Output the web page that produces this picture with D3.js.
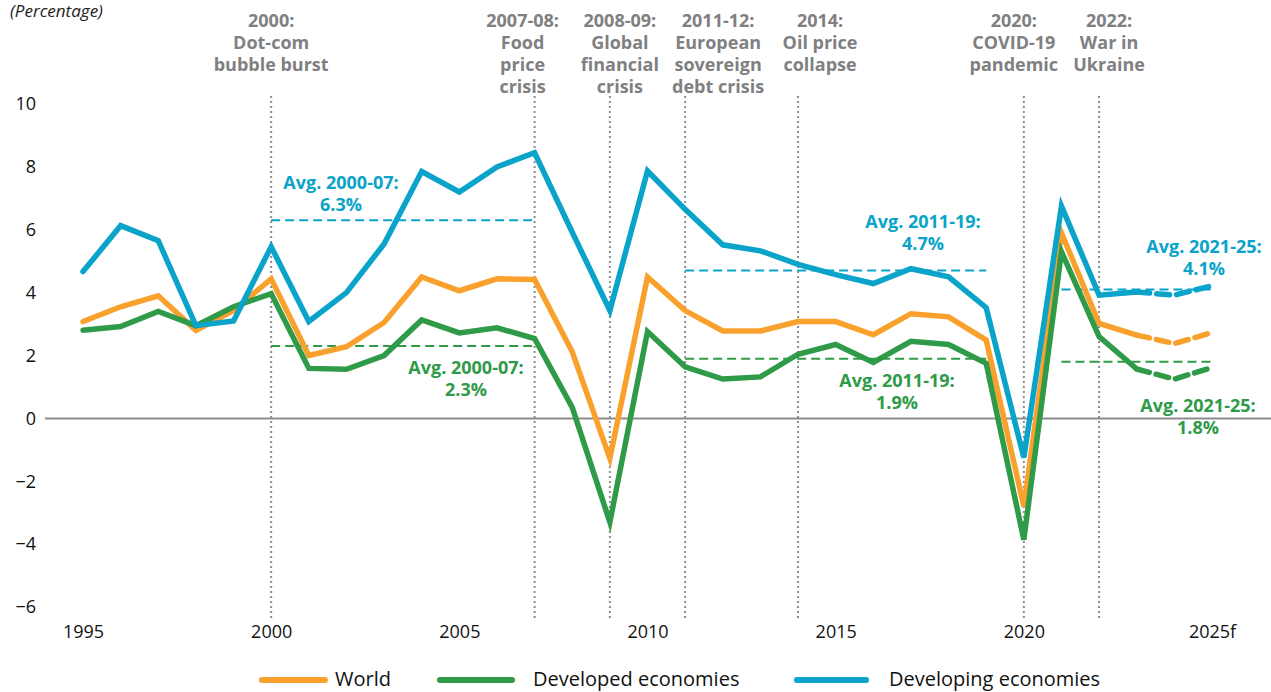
<!DOCTYPE html>
<html>
<head>
<meta charset="utf-8">
<script src="https://cdn.jsdelivr.net/npm/d3@7"></script>
<style>
  body { margin: 0; background: #fff; }
  svg { display: block; font-family: "Open Sans", sans-serif; }
</style>
</head>
<body>
<svg id="chart" width="1271" height="692"></svg>
<script>
// data
var years = d3.range(1995, 2026);
var world = [3.08, 3.55, 3.9, 2.8, 3.43, 4.44, 2.0, 2.28, 3.05, 4.5, 4.06, 4.44, 4.42, 2.12, -1.27,
             4.5, 3.43, 2.78, 2.78, 3.08, 3.08, 2.66, 3.33, 3.23, 2.49, -2.8, 5.9, 3.02, 2.65, 2.38, 2.73];
var developed = [2.8, 2.92, 3.4, 2.95, 3.55, 3.97, 1.59, 1.56, 2.0, 3.13, 2.72, 2.88, 2.54, 0.35, -3.3,
                 2.76, 1.64, 1.25, 1.32, 2.04, 2.35, 1.78, 2.45, 2.35, 1.75, -3.86, 5.3, 2.6, 1.57, 1.25, 1.62];
var developing = [4.67, 6.13, 5.65, 2.95, 3.1, 5.46, 3.08, 4.0, 5.55, 7.85, 7.2, 8.0, 8.45, 5.92, 3.43,
                  7.87, 6.65, 5.52, 5.33, 4.9, 4.57, 4.29, 4.76, 4.5, 3.52, -1.25, 6.75, 3.92, 4.02, 3.92, 4.22];
var forecastFrom = 2023;

var seriesNames = ["World", "Developed economies", "Developing economies"];
var seriesColors = ["#f9a12c", "#2f9a48", "#0aa3c9"];

var yTicks = [-6, -4, -2, 0, 2, 4, 6, 8, 10];
var xTicks = [1995, 2000, 2005, 2010, 2015, 2020, 2025];
var xTickLabels = ["1995", "2000", "2005", "2010", "2015", "2020", "2025f"];

var eventYears = [2000, 2007, 2009, 2011, 2014, 2020, 2022];
var eventLabels = [
  ["2000:", "Dot-com", "bubble burst"],
  ["2007-08:", "Food", "price", "crisis"],
  ["2008-09:", "Global", "financial", "crisis"],
  ["2011-12:", "European", "sovereign", "debt crisis"],
  ["2014:", "Oil price", "collapse"],
  ["2020:", "COVID-19", "pandemic"],
  ["2022:", "War in", "Ukraine"]
];
var eventLabelShift = [0, -12, 10, 33, 22, -10, 10]; // px, label centre vs line

// averages: series index, from, to, value
var avgSeries = [2, 1, 2, 1, 2, 1];
var avgFrom = [2000, 2000, 2011, 2011, 2021, 2021];
var avgTo = [2007, 2007, 2019, 2019, 2025, 2025];
var avgValues = [6.3, 2.3, 4.7, 1.9, 4.1, 1.8];
var avgLabelPos = [[341, 189], [466, 374], [923, 228], [897, 387], [1204, 253], [1198, 412]];

var W = 1271, H = 692;
var svg = d3.select("#chart");

var x = d3.scaleLinear().domain([1995, 2025]).range([83, 1212]);
var y = d3.scaleLinear().domain([-6, 10]).range([607, 104]);

svg.append("text")
  .attr("x", 10).attr("y", 17)
  .attr("font-size", 17).attr("font-style", "italic").attr("fill", "#222")
  .text("(Percentage)");

// y axis labels
var yAxis = d3.axisLeft(y).tickValues(yTicks).tickSize(0).tickPadding(0).tickFormat(d3.format("d"));
var gy = svg.append("g").attr("transform", "translate(36,0)").call(yAxis);
gy.select(".domain").remove();
gy.selectAll("text").attr("font-size", 18).attr("font-family", "Open Sans").attr("fill", "#111");

// x axis labels
var xAxis = d3.axisBottom(x).tickValues(xTicks).tickSize(0).tickPadding(0)
  .tickFormat((d, i) => xTickLabels[i]);
var gx = svg.append("g").attr("transform", "translate(0,625)").call(xAxis);
gx.select(".domain").remove();
gx.selectAll("text").attr("font-size", 18).attr("font-family", "Open Sans").attr("fill", "#111");

// zero line
svg.append("line")
  .attr("x1", 45).attr("x2", W)
  .attr("y1", y(0)).attr("y2", y(0))
  .attr("stroke", "#8c8c8e").attr("stroke-width", 2);

// event markers
eventYears.forEach(function(yr, i) {
  svg.append("line")
    .attr("x1", x(yr)).attr("x2", x(yr))
    .attr("y1", 96).attr("y2", 620)
    .attr("stroke", "#8c8c8e").attr("stroke-width", 2)
    .attr("stroke-dasharray", "2,3");
  var t = svg.append("text")
    .attr("text-anchor", "middle")
    .attr("font-size", 18).attr("font-weight", "bold").attr("fill", "#808082");
  eventLabels[i].forEach(function(s, j) {
    t.append("tspan")
      .attr("x", x(yr) + eventLabelShift[i])
      .attr("y", 27 + j * 22)
      .text(s);
  });
});

// average lines
avgValues.forEach(function(v, i) {
  svg.append("line")
    .attr("x1", x(avgFrom[i])).attr("x2", x(avgTo[i]))
    .attr("y1", y(v)).attr("y2", y(v))
    .attr("stroke", seriesColors[avgSeries[i]]).attr("stroke-width", 2)
    .attr("stroke-dasharray", "9,5");
  var t = svg.append("text")
    .attr("text-anchor", "middle")
    .attr("font-size", 18).attr("font-weight", "bold")
    .attr("fill", seriesColors[avgSeries[i]]);
  var lbl = ["Avg. " + avgFrom[i] + "-" + String(avgTo[i]).slice(2) + ":", v.toFixed(1) + "%"];
  lbl.forEach(function(s, j) {
    t.append("tspan")
      .attr("x", avgLabelPos[i][0])
      .attr("y", avgLabelPos[i][1] + j * 22)
      .text(s);
  });
});

// series lines
var line = d3.line().x(d => x(d.year)).y(d => y(d.value)).curve(d3.curveLinear);
var allSeries = [world, developed, developing];
allSeries.forEach(function(vals, i) {
  var pts = years.map((yr, k) => ({ year: yr, value: vals[k] }));
  svg.append("path")
    .datum(pts.filter(d => d.year <= forecastFrom))
    .attr("fill", "none")
    .attr("stroke", seriesColors[i]).attr("stroke-width", 5.5)
    .attr("stroke-linejoin", "miter").attr("stroke-linecap", "round")
    .attr("d", line);
  svg.append("path")
    .datum(pts.filter(d => d.year >= forecastFrom))
    .attr("fill", "none")
    .attr("stroke", seriesColors[i]).attr("stroke-width", 5.5)
    .attr("stroke-dasharray", "13,7")
    .attr("stroke-linecap", "round")
    .attr("d", line);
});

// legend
var legendLineX = [[262, 325], [440, 512], [797, 866]];
var legendTextX = [335, 533, 889];
seriesNames.forEach(function(name, i) {
  svg.append("line")
    .attr("x1", legendLineX[i][0]).attr("x2", legendLineX[i][1])
    .attr("y1", 680).attr("y2", 680)
    .attr("stroke", seriesColors[i]).attr("stroke-width", 6)
    .attr("stroke-linecap", "round");
  svg.append("text")
    .attr("x", legendTextX[i]).attr("y", 686)
    .attr("font-size", 20).attr("fill", "#111")
    .text(name);
});
</script>
</body>
</html>
